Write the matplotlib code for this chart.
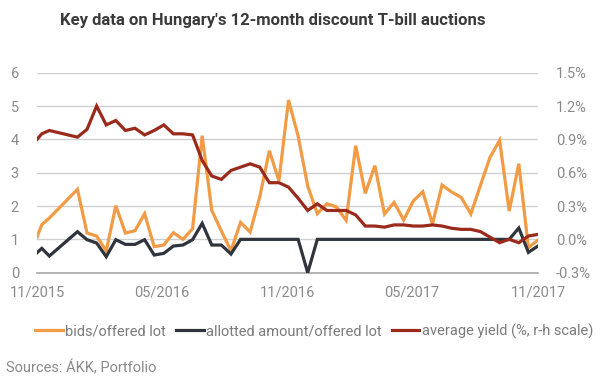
import matplotlib
matplotlib.use("Agg")
import matplotlib.pyplot as plt
import matplotlib.dates as mdates
import matplotlib.ticker as mticker
import pandas as pd
from matplotlib.lines import Line2D

plt.rcParams['font.family'] = ['Roboto', 'DejaVu Sans']

# ---------------- data ----------------
auction_dates = [
    "2015-11-01", "2015-11-08", "2015-11-19", "2015-12-30",
    "2016-01-13", "2016-01-27", "2016-02-10", "2016-02-24", "2016-03-09", "2016-03-23",
    "2016-04-06", "2016-04-20", "2016-05-04", "2016-05-18", "2016-06-01", "2016-06-15",
    "2016-06-29", "2016-07-13", "2016-07-27", "2016-08-10", "2016-08-24", "2016-09-07",
    "2016-09-21", "2016-10-05", "2016-10-19", "2016-11-02", "2016-11-16", "2016-11-30",
    "2016-12-14", "2016-12-28", "2017-01-11", "2017-01-25", "2017-02-08", "2017-02-22",
    "2017-03-08", "2017-03-22", "2017-04-05", "2017-04-19", "2017-05-03", "2017-05-17",
    "2017-05-31", "2017-06-14", "2017-06-28", "2017-07-12", "2017-07-26", "2017-08-09",
    "2017-08-23", "2017-09-06", "2017-09-20", "2017-10-04", "2017-10-18", "2017-11-01",
]

bids_offered = [
    1.07, 1.44, 1.64, 2.50,
    1.19, 1.10, 0.65, 2.01, 1.19, 1.26,
    1.77, 0.78, 0.83, 1.20, 1.00, 1.32,
    4.11, 1.87, 1.25, 0.66, 1.51, 1.22,
    2.27, 3.66, 2.76, 5.18, 4.10, 2.60,
    1.77, 2.07, 1.97, 1.57, 3.81, 2.38,
    3.21, 1.76, 2.11, 1.58, 2.15, 2.43,
    1.46, 2.63, 2.42, 2.26, 1.76, 2.62,
    3.46, 3.97, 1.85, 3.27, 0.75, 0.98,
]

allotted_offered = [
    0.60, 0.73, 0.50, 1.23,
    0.99, 0.89, 0.48, 0.99, 0.85, 0.85,
    0.99, 0.53, 0.58, 0.80, 0.83, 0.99,
    1.48, 0.83, 0.83, 0.56, 1.00, 1.00,
    1.00, 1.00, 1.00, 1.00, 1.00, 0.00,
    1.00, 1.00, 1.00, 1.00, 1.00, 1.00,
    1.00, 1.00, 1.00, 1.00, 1.00, 1.00,
    1.00, 1.00, 1.00, 1.00, 1.00, 1.00,
    1.00, 1.00, 1.00, 1.34, 0.61, 0.80,
]

avg_yield = [
    0.90, 0.95, 0.98, 0.92,
    0.99, 1.20, 1.03, 1.07, 0.98, 1.00,
    0.94, 0.98, 1.03, 0.95, 0.95, 0.94,
    0.71, 0.57, 0.54, 0.62, 0.65, 0.68,
    0.65, 0.51, 0.51, 0.47, 0.37, 0.26,
    0.32, 0.26, 0.26, 0.26, 0.22, 0.12,
    0.12, 0.11, 0.13, 0.13, 0.12, 0.12,
    0.13, 0.12, 0.10, 0.09, 0.09, 0.07,
    0.02, -0.03, 0.00, -0.03, 0.03, 0.045,
]

tick_dates = ["2015-11-01", "2016-05-01", "2016-11-01", "2017-05-01", "2017-11-01"]
left_ticks = [0, 1, 2, 3, 4, 5, 6]
right_ticks = [-0.3, 0.0, 0.3, 0.6, 0.9, 1.2, 1.5]

series_labels = ["bids/offered lot", "allotted amount/offered lot",
                 "average yield (%, r-h scale)"]
title = "Key data on Hungary's 12-month discount T-bill auctions"
source = "Sources: ÁKK, Portfolio"

# ---------------- style ----------------
c_orange = "#F29B45"
c_dark = "#2F343D"
c_red = "#9A2A1C"
c_text = "#8A8A8A"
c_grid = "#D0D0D0"
lw = 2.3

x = pd.to_datetime(auction_dates)
xt = pd.to_datetime(tick_dates)

fig = plt.figure(figsize=(6.09, 3.84), dpi=100)
ax = fig.add_axes([37/609, 1 - 272.7/384, (538 - 37)/609, 200/384])

ax.plot(x, bids_offered, color=c_orange, lw=lw, solid_joinstyle='miter', zorder=3)
ax.plot(x, allotted_offered, color=c_dark, lw=lw, solid_joinstyle='miter', zorder=4)

ax.set_ylim(0, 6)
ax.set_yticks(left_ticks)
ax.set_xlim(xt[0], xt[-1])
ax.set_xticks(xt)
ax.xaxis.set_major_formatter(mdates.DateFormatter("%m/%Y"))
ax.grid(axis='y', color=c_grid, lw=1)
ax.set_axisbelow(True)
for s in ['top', 'right', 'left']:
    ax.spines[s].set_visible(False)
ax.spines['bottom'].set_color('#A8A8A8')
ax.spines['bottom'].set_linewidth(1.2)
ax.tick_params(axis='both', length=0, labelsize=10.5, labelcolor=c_text)
ax.tick_params(axis='y', pad=13)
ax.tick_params(axis='x', pad=9)

ax2 = ax.twinx()
ax2.plot(x, avg_yield, color=c_red, lw=lw, solid_joinstyle='miter', zorder=5)
ax2.set_ylim(-0.3, 1.5)
ax2.set_yticks(right_ticks)
ax2.yaxis.set_major_formatter(mticker.FuncFormatter(lambda v, p: f"{v:.1f}%"))
for s in ['top', 'right', 'left', 'bottom']:
    ax2.spines[s].set_visible(False)
ax2.tick_params(axis='y', length=0, labelsize=10.5, labelcolor=c_text, pad=13)

fig.text(273/609, 1 - 21/384, title, ha='center', va='center',
         fontsize=12, fontweight='bold', color='#3A3A3A')

handles = [Line2D([], [], color=c, lw=lw) for c in (c_orange, c_dark, c_red)]
fig.legend(handles, series_labels, loc='center', bbox_to_anchor=(314/609, 1 - 331/384),
           ncol=3, frameon=False, handlelength=1.9, handletextpad=0.15,
           columnspacing=0.7, fontsize=10.5, labelcolor='#7A7A7A')

fig.text(6/609, 1 - 368/384, source, ha='left', va='center', fontsize=10.5, color=c_text)

fig.savefig("out.png", dpi=100)
